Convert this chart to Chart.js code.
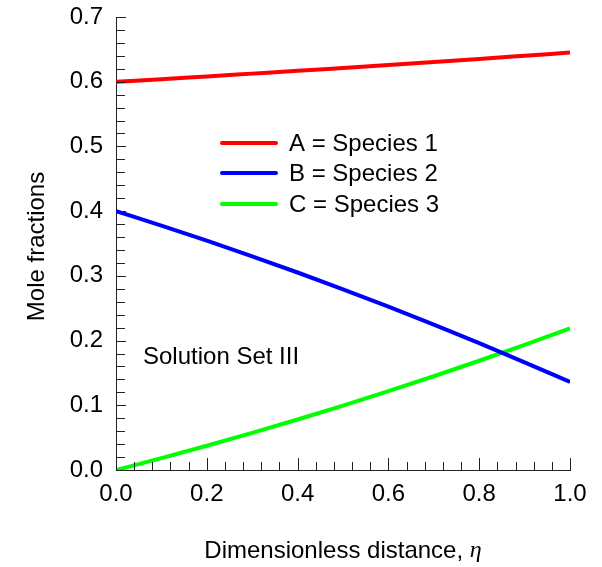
<!DOCTYPE html>
<html>
<head>
<meta charset="utf-8">
<script src="https://cdn.jsdelivr.net/npm/chart.js@4.4.0/dist/chart.umd.min.js"></script>
<style>
    html, body { margin: 0; padding: 0; background: #fff; }
    #wrap { width: 602px; height: 567px; position: relative; }
</style>
</head>
<body>
<div id="wrap"><canvas id="moleChart"></canvas></div>
<script>
// ===== DATA =====
const eta = [0.0, 0.1, 0.2, 0.3, 0.4, 0.5, 0.6, 0.7, 0.8, 0.9, 1.0];
const speciesA = [0.6000, 0.6037, 0.6082, 0.6125, 0.6168, 0.6213, 0.6258, 0.6305, 0.6352, 0.6401, 0.6450];
const speciesB = [0.4000, 0.3777, 0.3544, 0.3302, 0.3052, 0.2792, 0.2524, 0.2246, 0.1960, 0.1664, 0.1360];
const speciesC = [0.0000, 0.0183, 0.0374, 0.0573, 0.0780, 0.0995, 0.1218, 0.1449, 0.1688, 0.1935, 0.2190];
const seriesLabels = ['A = Species 1', 'B = Species 2', 'C = Species 3'];
const seriesColors = ['#ff0000', '#0000ff', '#00ff00'];
const xTicks = [0.0, 0.2, 0.4, 0.6, 0.8, 1.0];
const yTicks = [0.0, 0.1, 0.2, 0.3, 0.4, 0.5, 0.6, 0.7];

const FONT = "'Liberation Sans', Arial, sans-serif";
const FONT_SIZE = 24;

function toPoints(ys) {
    return eta.map(function (x, i) { return { x: x, y: ys[i] }; });
}

// ===== CUSTOM DRAWING: inward ticks, legend, titles, note =====
const decorPlugin = {
    id: 'decor',
    afterDraw: function (chart) {
        const c = chart.ctx;
        const xs = chart.scales.x;
        const ys = chart.scales.y;
        const area = chart.chartArea;
        c.save();
        c.strokeStyle = '#222';
        c.lineWidth = 1;

        // x ticks (inside, pointing up)
        for (let i = 0; i <= 25; i++) {
            const v = i * 0.04;
            const px = Math.round(xs.getPixelForValue(v)) + 0.5;
            const major = (i % 5 === 0);
            const len = major ? 12 : 8;
            c.beginPath();
            c.moveTo(px, area.bottom);
            c.lineTo(px, area.bottom - len);
            c.stroke();
        }
        // y ticks (inside, pointing right)
        for (let i = 0; i <= 35; i++) {
            const v = i * 0.02;
            const py = Math.round(ys.getPixelForValue(v)) + 0.5;
            const major = (i % 5 === 0);
            const len = major ? 10 : 9;
            c.beginPath();
            c.moveTo(area.left, py);
            c.lineTo(area.left + len, py);
            c.stroke();
        }

        // legend
        c.font = FONT_SIZE + 'px ' + FONT;
        c.textBaseline = 'middle';
        c.textAlign = 'left';
        const rows = [143, 173, 204];
        chart.data.datasets.forEach(function (ds, i) {
            c.strokeStyle = ds.borderColor;
            c.lineWidth = 4;
            c.lineCap = 'round';
            c.beginPath();
            c.moveTo(222, rows[i]);
            c.lineTo(276, rows[i]);
            c.stroke();
            c.fillStyle = '#000';
            c.fillText(ds.label, 289, rows[i] + 1);
        });

        // annotation
        c.fillText('Solution Set III', 143, 357);

        // x title
        c.textAlign = 'left';
        const t1 = 'Dimensionless distance, ';
        const w1 = c.measureText(t1).width;
        c.font = 'italic ' + FONT_SIZE + 'px "Liberation Serif", "Times New Roman", serif';
        const w2 = c.measureText('\u03b7').width;
        const x0 = (area.left + area.right) / 2 - (w1 + w2) / 2;
        c.font = FONT_SIZE + 'px ' + FONT;
        c.fillText(t1, x0, 551);
        c.font = 'italic ' + FONT_SIZE + 'px "Liberation Serif", "Times New Roman", serif';
        c.fillText('\u03b7', x0 + w1, 551);

        // y title
        c.font = FONT_SIZE + 'px ' + FONT;
        c.translate(37, (area.top + area.bottom) / 2 + 3);
        c.rotate(-Math.PI / 2);
        c.textAlign = 'center';
        c.fillText('Mole fractions', 0, 0);
        c.restore();
    }
};

// ===== CHART =====
let moleChart;

function initMoleChart() {
    const ctx = document.getElementById('moleChart');
    if (!ctx || typeof Chart === 'undefined') return;

    moleChart = new Chart(ctx, {
        type: 'line',
        data: {
            datasets: [speciesA, speciesB, speciesC].map(function (ys, i) {
                return {
                    label: seriesLabels[i],
                    data: toPoints(ys),
                    borderColor: seriesColors[i],
                    backgroundColor: seriesColors[i],
                    borderWidth: 4,
                    pointRadius: 0,
                    cubicInterpolationMode: 'monotone',
                    fill: false
                };
            })
        },
        options: {
            responsive: true,
            maintainAspectRatio: false,
            animation: false,
            layout: {
                padding: { top: 17, right: 32, left: 0, bottom: 0 }
            },
            plugins: {
                legend: { display: false },
                tooltip: { enabled: false }
            },
            scales: {
                x: {
                    type: 'linear',
                    min: 0,
                    max: 1,
                    afterFit: function (scale) {
                        scale.height = 97;
                        scale.paddingLeft = 0;
                        scale.paddingRight = 0;
                    },
                    afterBuildTicks: function (scale) {
                        scale.ticks = xTicks.map(function (v) { return { value: v }; });
                    },
                    grid: { display: false, drawTicks: false },
                    border: { display: true, color: '#222', width: 1 },
                    ticks: {
                        color: '#000',
                        padding: 10,
                        font: { family: FONT, size: FONT_SIZE },
                        callback: function (value) { return value.toFixed(1); }
                    }
                },
                y: {
                    type: 'linear',
                    min: 0,
                    max: 0.7,
                    afterFit: function (scale) {
                        scale.width = 116;
                        scale.paddingTop = 0;
                        scale.paddingBottom = 0;
                    },
                    afterBuildTicks: function (scale) {
                        scale.ticks = yTicks.map(function (v) { return { value: v }; });
                    },
                    grid: { display: false, drawTicks: false },
                    border: { display: true, color: '#222', width: 1 },
                    ticks: {
                        color: '#000',
                        padding: 13,
                        font: { family: FONT, size: FONT_SIZE },
                        callback: function (value) { return value.toFixed(1); }
                    }
                }
            }
        },
        plugins: [decorPlugin]
    });
}

document.addEventListener('DOMContentLoaded', initMoleChart);
</script>
</body>
</html>
